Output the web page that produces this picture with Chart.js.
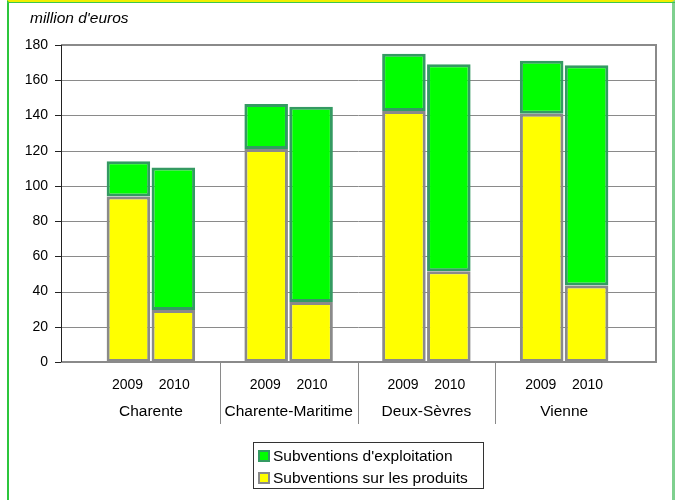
<!DOCTYPE html>
<html>
<head>
<meta charset="utf-8">
<script src="https://cdn.jsdelivr.net/npm/chart.js@4"></script>
<style>
  body { margin: 0; background: #fff; }
  #wrap { position: relative; width: 675px; height: 500px; overflow: hidden; }
  #frame { position: absolute; left: 7px; top: 0; width: 668px; height: 500px;
           border-top: 2px solid #f2ee00; border-left: 2px solid #2cc63c; border-right: 3px solid #7fd08f; box-sizing: border-box; }
  #frameTop { position: absolute; left: 7px; top: 2px; width: 668px; height: 1px; background: #3cc84a; }
  #chartBox { position: absolute; left: 0; top: 0; width: 675px; height: 500px; }
  #legend { position: absolute; left: 253px; top: 442px; width: 231px; height: 47px; box-sizing: border-box;
            border: 1px solid #333; font: 15.5px "Liberation Sans", Arial, sans-serif; color: #000; padding-top: 2px; }
  #legend div { height: 22px; line-height: 21px; padding-left: 4px; white-space: nowrap; }
  #legend span.box { display: inline-block; width: 8px; height: 8px; border-width: 2px; border-style: solid;
                     vertical-align: -1px; margin-right: 3px; }
</style>
</head>
<body>
<div id="wrap">
  <div id="frame"></div>
  <div id="frameTop"></div>
  <div id="chartBox"><canvas id="subvChart"></canvas></div>
  <div id="legend"></div>
</div>
<script>
// categories
const regions = ['Charente', 'Charente-Maritime', 'Deux-Sèvres', 'Vienne'];
const years = ['2009', '2010'];
// million d'euros
const produits2009 = [94, 121, 142.5, 141];
const produits2010 = [29.5, 34, 51.5, 43.5];
const exploitation2009 = [20, 25.5, 32.5, 30];
const exploitation2010 = [81, 111, 117.5, 125];

const labelProduits = 'Subventions sur les produits';
const labelExploit = "Subventions d'exploitation";

const yellow = '#ffff00', yellowBorder = '#8a8a8a';
const green = '#00ff00', greenBorder = '#349a62';
const fontFamily = '"Liberation Sans", Arial, sans-serif';

const framePlugin = {
    id: 'framePlugin',
    beforeDatasetsDraw(chart) {
        const ctx = chart.ctx;
        const a = chart.chartArea;
        const x = chart.scales.x, y = chart.scales.y;
        const left = a.left - 21, right = a.right + 23;
        ctx.save();
        // grid lines
        ctx.strokeStyle = '#8a8a8a';
        ctx.lineWidth = 1;
        y.ticks.forEach(function(t) {
            const py = Math.round(y.getPixelForValue(t.value)) + 0.5;
            ctx.beginPath(); ctx.moveTo(left, py); ctx.lineTo(right, py); ctx.stroke();
        });
        // top / right / bottom border
        const top = Math.round(y.getPixelForValue(180));
        const bottom = Math.round(y.getPixelForValue(0));
        ctx.lineWidth = 2;
        ctx.beginPath();
        ctx.moveTo(left, top); ctx.lineTo(right, top); ctx.lineTo(right, bottom); ctx.lineTo(left, bottom);
        ctx.stroke();
        // group separators under the axis
        ctx.lineWidth = 1;
        for (let i = 0; i < regions.length - 1; i++) {
            const px = Math.round((x.getPixelForTick(i) + x.getPixelForTick(i + 1)) / 2) + 0.5;
            ctx.beginPath(); ctx.moveTo(px, bottom); ctx.lineTo(px, bottom + 62); ctx.stroke();
        }
        // left axis with tick marks
        ctx.strokeStyle = '#222';
        ctx.beginPath(); ctx.moveTo(left + 0.5, top); ctx.lineTo(left + 0.5, bottom); ctx.stroke();
        y.ticks.forEach(function(t) {
            const py = Math.round(y.getPixelForValue(t.value)) + 0.5;
            ctx.beginPath(); ctx.moveTo(left - 6, py); ctx.lineTo(left, py); ctx.stroke();
        });
        ctx.restore();
    },
    afterDraw(chart) {
        const ctx = chart.ctx;
        ctx.save();
        ctx.font = 'italic 15.5px ' + fontFamily;
        ctx.fillStyle = '#000';
        ctx.textBaseline = 'middle';
        ctx.fillText("million d'euros", 30, 19);
        ctx.restore();
    }
};

const yearLabels = regions.map(function() { return years[0] + '    ' + years[1]; });

function barSet(label, data, stack, bg, border) {
    return {
        label: label,
        data: data,
        stack: stack,
        backgroundColor: bg,
        borderColor: border,
        borderWidth: 3,
        borderSkipped: false,
        categoryPercentage: 0.652,
        barPercentage: 0.97
    };
}

const chart = new Chart(document.getElementById('subvChart').getContext('2d'), {
    type: 'bar',
    data: {
        labels: yearLabels,
        datasets: [
            barSet(labelProduits, produits2009, '2009', yellow, yellowBorder),
            barSet(labelExploit, exploitation2009, '2009', green, greenBorder),
            barSet(labelProduits, produits2010, '2010', yellow, yellowBorder),
            barSet(labelExploit, exploitation2010, '2010', green, greenBorder)
        ]
    },
    options: {
        responsive: true,
        maintainAspectRatio: false,
        animation: false,
        layout: { padding: { left: 0, right: 42, top: 45, bottom: 0 } },
        plugins: {
            legend: { display: false },
            tooltip: { enabled: false }
        },
        scales: {
            x: {
                stacked: true,
                weight: 1,
                grid: { display: false, drawTicks: false },
                border: { display: false },
                ticks: {
                    autoSkip: false, maxRotation: 0, padding: 15, color: '#000',
                    font: { family: fontFamily, size: 14, lineHeight: 1.2 }
                },
                afterFit: function(scale) { scale.height = 36; }
            },
            regions: {
                type: 'category',
                position: 'bottom',
                labels: regions,
                offset: true,
                weight: 2,
                grid: { display: false, drawTicks: false },
                border: { display: false },
                ticks: {
                    autoSkip: false, maxRotation: 0, padding: 4, color: '#000',
                    font: { family: fontFamily, size: 15.5, lineHeight: 1.2 }
                },
                afterFit: function(scale) { scale.height = 102; }
            },
            y: {
                stacked: true,
                min: 0, max: 180,
                grid: { display: false, drawTicks: false },
                border: { display: false },
                ticks: {
                    stepSize: 20, padding: 34, color: '#000',
                    font: { family: fontFamily, size: 14 }
                },
                afterFit: function(scale) { scale.width = 82; }
            }
        }
    },
    plugins: [framePlugin]
});

// legend, green entry first as in the original
const seen = {};
const legendItems = chart.data.datasets.slice().reverse().filter(function(d) {
    if (seen[d.label]) return false;
    seen[d.label] = true;
    return true;
});
document.getElementById('legend').innerHTML = legendItems.map(function(d) {
    return '<div><span class="box" style="background:' + d.backgroundColor + ';border-color:' + d.borderColor + '"></span>' + d.label + '</div>';
}).join('');
</script>
</body>
</html>
